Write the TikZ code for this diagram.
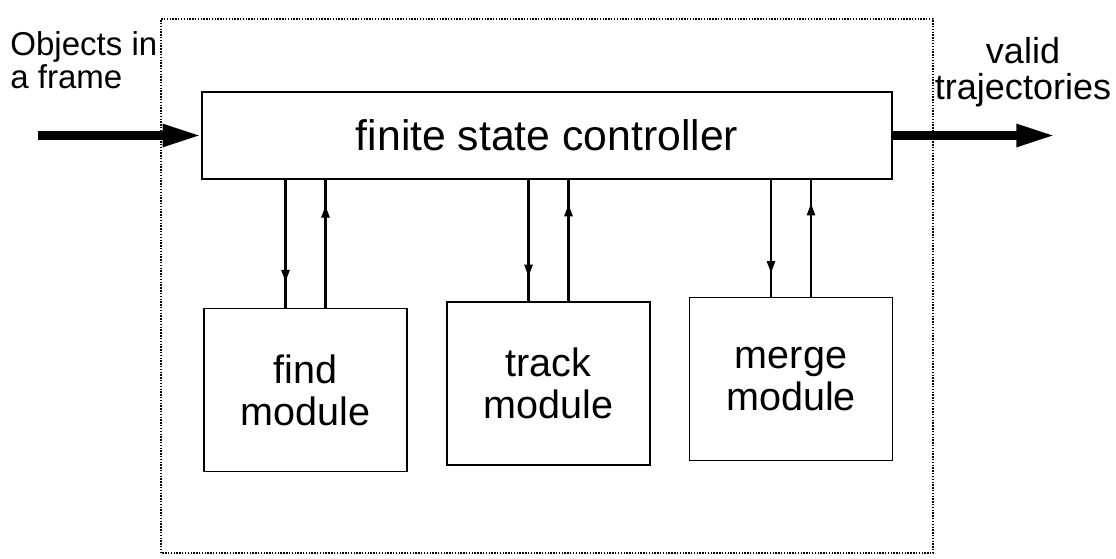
\documentclass[tikz,border=0pt]{standalone}
\usepackage{fontspec}
\setmainfont{Liberation Sans}
\usetikzlibrary{arrows.meta,decorations.markings,calc}

\begin{document}
\begin{tikzpicture}[
    box/.style={draw, line width=0.9pt, inner sep=0pt},
    module/.style={box, minimum width=4.06cm, minimum height=3.26cm, align=center, font=\fontsize{22.5}{24}\selectfont},
    bigarrow/.style={line width=4.6pt, -{Triangle[length=22pt,width=12pt]}},
    link/.style={line width=1.6pt, postaction={decorate},
        decoration={markings, mark=at position 0.8 with {\arrow{Triangle[length=7pt,width=4.5pt]}}}}
]
    \useasboundingbox (0,0) rectangle (22.32,11.16);
    % dotted system frame
    \draw[line width=0.8pt, dash pattern=on 0.8pt off 0.8pt] (3.22,0.1) rectangle (18.66,10.78);

    \node[box, minimum width=13.8cm, minimum height=1.74cm, font=\fontsize{24.3}{26}\selectfont] (ctrl) at (10.94,8.45) {finite state controller};

    \node[module] (find) at (6.11,3.36) {find\\module};
    \node[module] (track) at (10.97,3.49) {track\\module};
    \node[module] (merge) at (15.82,3.58) {merge\\module};

    % input and output
    \coordinate (src) at (0.76,8.45);
    \coordinate (dst) at (21.1,8.45);
    \draw[bigarrow] (src) -- (ctrl.west);
    \draw[bigarrow] (ctrl.east) -- (dst);

    \node[anchor=north west, align=left, inner sep=0pt, font=\fontsize{18.8}{18.8}\selectfont] (objs) at (0.2,10.54) {Objects in\\a frame};
    \node[anchor=north, align=center, inner sep=0pt, font=\fontsize{20.5}{20.5}\selectfont] (traj) at (20.46,10.42) {valid\\trajectories};

    % controller <-> module links
    \foreach \m in {find,track,merge} {
        \coordinate (\m-down) at ($(\m.north)+(-0.4,0)$);
        \coordinate (\m-up) at ($(\m.north)+(0.4,0)$);
        \draw[link] (\m-down |- ctrl.south) -- (\m-down);
        \draw[link] (\m-up) -- (\m-up |- ctrl.south);
    }
\end{tikzpicture}
\end{document}
